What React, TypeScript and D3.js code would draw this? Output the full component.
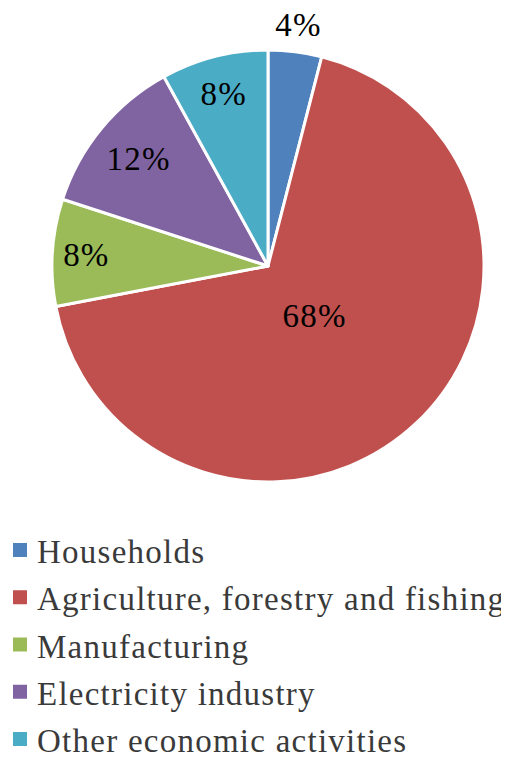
import React from "react";
import * as d3 from "d3";

const categories = [
  "Households",
  "Agriculture, forestry and fishing",
  "Manufacturing",
  "Electricity industry",
  "Other economic activities",
];
const values = [4, 68, 8, 12, 8];
const valueLabels = ["4%", "68%", "8%", "12%", "8%"];
const colors = ["#4F81BD", "#C0504D", "#9BBB59", "#8064A2", "#4BACC6"];
const labelRadii = [243, 68, 182, 168, 178];

const W = 509;
const H = 758;
const cx = 268;
const cy = 266;
const R = 216;
const FONT = "Liberation Serif";

export default function App() {
  const pie = d3.pie<number>().sort(null).value((d) => d);
  const arcs = pie(values);
  const arcGen = d3.arc<d3.PieArcDatum<number>>().innerRadius(0).outerRadius(R);

  const legendY = d3.scaleLinear().domain([0, categories.length - 1]).range([563, 752]);

  return (
    <svg width={W} height={H} style={{ display: "block", margin: "-8px 0 0 -8px", background: "#fff" }}>
      <g transform={`translate(${cx},${cy})`}>
        {arcs.map((a, i) => (
          <path key={i} d={arcGen(a) || ""} fill={colors[i]} stroke="#fff" strokeWidth={3} strokeLinejoin="round" />
        ))}
        {arcs.map((a, i) => {
          const mid = (a.startAngle + a.endAngle) / 2;
          const r = labelRadii[i];
          const x = r * Math.sin(mid);
          const y = -r * Math.cos(mid);
          return (
            <text
              key={i}
              x={x}
              y={y + 11}
              textAnchor="middle"
              style={{ fontFamily: FONT, fontSize: 33, letterSpacing: "1.2px" }}
              fill="#000"
            >
              {valueLabels[i]}
            </text>
          );
        })}
      </g>
      {categories.map((c, i) => {
        const by = legendY(i);
        return (
          <g key={c}>
            <rect x={13} y={by - 20} width={14} height={14} fill={colors[i]} />
            <text
              x={37}
              y={by}
              style={{ fontFamily: FONT, fontSize: 33, letterSpacing: "1.25px" }}
              fill="#3a3a3a"
            >
              {c}
            </text>
          </g>
        );
      })}
    </svg>
  );
}
